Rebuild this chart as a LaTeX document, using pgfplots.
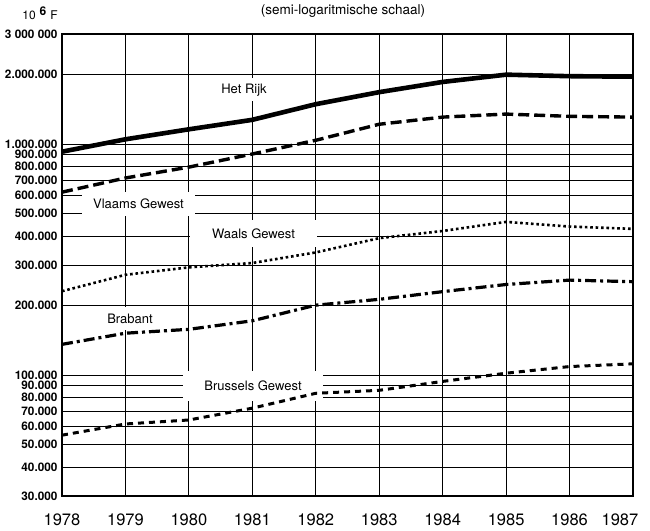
\documentclass[border=0pt]{standalone}
\usepackage{pgfplots}
\pgfplotsset{compat=1.18}
\usepackage{fontspec}
\setmainfont{TeX Gyre Heros}
\begin{document}
\begin{tikzpicture}
\useasboundingbox (0pt,0pt) rectangle (650pt,530pt);
\begin{axis}[
  at={(62pt,34pt)}, anchor=south west,
  scale only axis, width=571pt, height=462pt,
  ymode=log, log basis y=10,
  xmin=1978, xmax=1987, ymin=30000, ymax=3000000,
  clip=false,
  xtick={1978,1979,1980,1981,1982,1983,1984,1985,1986,1987},
  xticklabels={1978,1979,1980,1981,1982,1983,1984,1985,1986,{\raisebox{3pt}{\hspace*{-26pt}1987}}},
  ytick={30000,40000,50000,60000,70000,80000,90000,100000,200000,300000,400000,500000,600000,700000,800000,900000,1000000,2000000,3000000},
  yticklabels={30.000,40.000,50.000,60.000,70.000,80.000,90.000,100.000,200.000,300.000,400.000,500.000,600.000,700.000,800.000,900.000,1.000.000,2.000.000,3 000 000},
  major tick length=0pt, minor tick num=0,
  grid=major, major grid style={black, line width=0.8pt},
  axis line style={black, line width=2.4pt},
  x tick label style={font=\fontsize{16.5}{18}\selectfont, yshift=-14pt},
  y tick label style={font=\fontsize{11.8}{13}\selectfont\bfseries, xshift=-1pt},
]
% label boxes (white, cutting the grid)
\node[fill=white, inner sep=0pt, minimum width=60pt, minimum height=23pt, font=\fontsize{13}{14}\selectfont] at (axis cs:1980.869,1717000) {Het Rijk};
\node[fill=white, inner sep=0pt, minimum width=113pt, minimum height=24pt, font=\fontsize{13}{14}\selectfont] at (axis cs:1979.206,551000) {Vlaams Gewest};
\node[fill=white, inner sep=0pt, minimum width=127pt, minimum height=27pt, font=\fontsize{13}{14}\selectfont] at (axis cs:1981.019,410800) {Waals Gewest};
\node[fill=white, inner sep=0pt, minimum width=56pt, minimum height=23pt, font=\fontsize{13}{14}\selectfont] at (axis cs:1979.072,176000) {Brabant};
\node[fill=white, inner sep=0pt, minimum width=140pt, minimum height=30pt, font=\fontsize{13}{14}\selectfont] at (axis cs:1981.011,89800) {Brussels Gewest};
% titles
\node[font=\fontsize{13.5}{15}\selectfont] at (rel axis cs:0.492,1.049) {(semi-logaritmische schaal)};
\node[font=\fontsize{12}{13}\selectfont] at (rel axis cs:-0.0385,1.0455) {10\hspace{4pt}\raisebox{0.6ex}{\bfseries 6}\hspace{4pt}F};
% Het Rijk
\addplot[black, line width=4.6pt, line join=round] coordinates {
(1978,928000) (1979,1050000) (1980,1160000) (1981,1275000) (1982,1490000)
(1983,1680000) (1984,1860000) (1985,2000000) (1986,1970000) (1987,1960000)};
% Vlaams Gewest
\addplot[black, line width=3.4pt, dash pattern=on 11pt off 5pt] coordinates {
(1978,620000) (1979,714000) (1980,796000) (1981,907000) (1982,1040000)
(1983,1220000) (1984,1310000) (1985,1350000) (1986,1320000) (1987,1310000)};
% Waals Gewest
\addplot[black, line width=2.6pt, dash pattern=on 2.6pt off 2.8pt] coordinates {
(1978,231000) (1979,272000) (1980,293000) (1981,306000) (1982,340000)
(1983,392000) (1984,421000) (1985,461000) (1986,440000) (1987,430000)};
% Brabant
\addplot[black, line width=3.2pt, dash pattern=on 11pt off 4pt on 3pt off 4pt] coordinates {
(1978,136000) (1979,152000) (1980,158000) (1981,172000) (1982,201000)
(1983,213000) (1984,230000) (1985,247000) (1986,258000) (1987,254000)};
% Brussels Gewest
\addplot[black, line width=3pt, dash pattern=on 6pt off 5pt] coordinates {
(1978,55000) (1979,61500) (1980,64000) (1981,72000) (1982,83500)
(1983,86000) (1984,94000) (1985,102000) (1986,109000) (1987,112000)};
\end{axis}
\end{tikzpicture}
\end{document}
